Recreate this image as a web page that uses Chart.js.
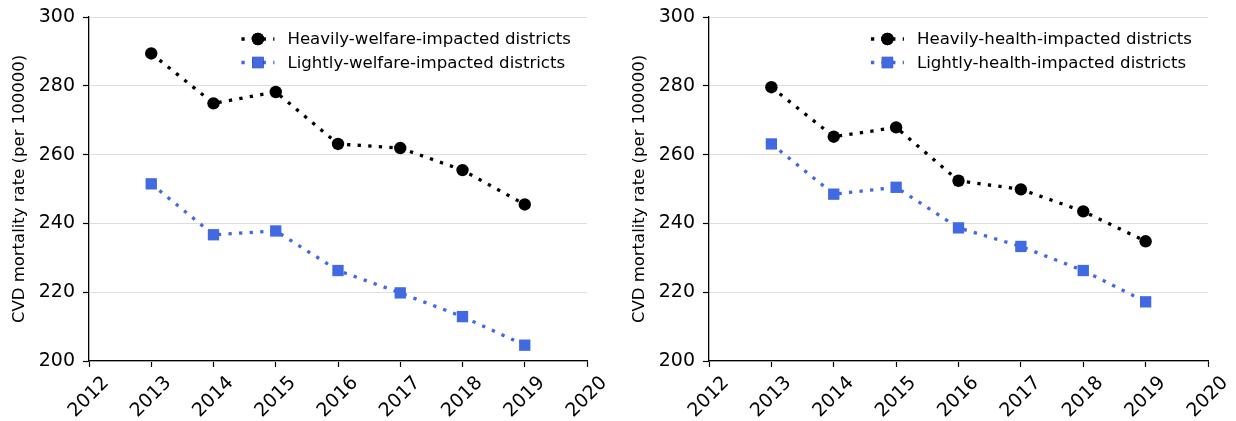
<!DOCTYPE html>
<html>
<head>
<meta charset="utf-8">
<title>CVD mortality rate by district group</title>
<script src="https://cdn.jsdelivr.net/npm/chart.js@4.4.1/dist/chart.umd.min.js"></script>
<style>
    html, body { margin: 0; padding: 0; background: #fff; }
    #wrap { display: flex; width: 1236px; height: 421px; }
    canvas { display: block; }
</style>
</head>
<body>
<div id="wrap">
    <canvas id="welfare" width="620" height="421"></canvas>
    <canvas id="health" width="616" height="421"></canvas>
</div>
<script>
// years on the x axis
const years = [2013, 2014, 2015, 2016, 2017, 2018, 2019];
const xTicks = [2012, 2013, 2014, 2015, 2016, 2017, 2018, 2019, 2020];
const yTicks = [200, 220, 240, 260, 280, 300];

// left panel: welfare impact
const heavyWelfare = [289.4, 274.9, 278.2, 263.1, 261.9, 255.5, 245.5];
const lightWelfare = [251.5, 236.7, 237.8, 226.3, 219.8, 212.9, 204.6];

// right panel: health impact
const heavyHealth = [279.6, 265.2, 267.9, 252.4, 249.9, 243.5, 234.8];
const lightHealth = [263.1, 248.5, 250.5, 238.7, 233.3, 226.3, 217.2];

const yTitle = 'CVD mortality rate (per 100000)';
const FONT = 'DejaVu Sans';
const BLUE = '#4169e1';

Chart.defaults.font.family = FONT;
Chart.defaults.color = '#000';

function points(vals) {
    return years.map((yr, i) => ({ x: yr, y: vals[i] }));
}

function series(label, vals, color, style) {
    return {
        label: label,
        data: points(vals),
        borderColor: color,
        backgroundColor: color,
        borderWidth: 3.3,
        borderDash: [3.3, 7.3],
        borderCapStyle: 'butt',
        pointStyle: style,
        pointRadius: style === 'rect' ? 8 : 6.2,
        pointHoverRadius: style === 'rect' ? 8 : 6.2,
        pointBorderWidth: 0,
        pointBackgroundColor: color,
        tension: 0,
        fill: false,
    };
}

// matplotlib-like legend drawn inside the plot, upper right
const insideLegend = {
    id: 'insideLegend',
    afterDatasetsDraw(chart) {
        const ctx = chart.ctx;
        const area = chart.chartArea;
        const sets = chart.data.datasets;
        ctx.save();
        ctx.font = '16.6px ' + FONT;
        const textW = Math.max(...sets.map(d => ctx.measureText(d.label).width));
        const handle = 33;
        const gap = 13;
        const x0 = area.right - 16 - textW - gap - handle;
        sets.forEach((d, i) => {
            const y = area.top + 22 + i * 23.5;
            ctx.strokeStyle = d.borderColor;
            ctx.lineWidth = d.borderWidth;
            ctx.setLineDash(d.borderDash);
            ctx.beginPath();
            ctx.moveTo(x0, y);
            ctx.lineTo(x0 + handle, y);
            ctx.stroke();
            ctx.setLineDash([]);
            Chart.helpers.drawPoint(ctx, {
                pointStyle: d.pointStyle,
                radius: d.pointRadius,
                borderWidth: 0,
            }, x0 + handle / 2, y);
            ctx.fillStyle = d.borderColor;
            ctx.fill();
            ctx.fillStyle = '#000';
            ctx.textAlign = 'left';
            ctx.textBaseline = 'middle';
            ctx.fillText(d.label, x0 + handle + gap, y + 1);
        });
        ctx.restore();
    }
};

function makeChart(id, heavy, light, kind, padRight) {
    new Chart(document.getElementById(id), {
        type: 'line',
        data: {
            datasets: [
                series('Heavily-' + kind + '-impacted districts', heavy, '#000', 'circle'),
                series('Lightly-' + kind + '-impacted districts', light, BLUE, 'rect'),
            ],
        },
        options: {
            responsive: false,
            animation: false,
            devicePixelRatio: 1,
            layout: { padding: { left: 0, right: padRight, top: 17, bottom: 0 } },
            plugins: { legend: { display: false }, tooltip: { enabled: false } },
            scales: {
                x: {
                    type: 'linear',
                    min: xTicks[0],
                    max: xTicks[xTicks.length - 1],
                    afterBuildTicks: (scale) => { scale.ticks = xTicks.map(v => ({ value: v })); },
                    ticks: {
                        callback: (v) => String(v),
                        maxRotation: 45,
                        minRotation: 45,
                        labelOffset: 17,
                        padding: 5,
                        font: { size: 19 },
                        color: '#000',
                    },
                    grid: {
                        drawOnChartArea: false,
                        tickLength: 6,
                        tickColor: '#000',
                        tickWidth: 1.2,
                    },
                    border: { color: '#000', width: 1.3 },
                    afterFit: (scale) => {
                        scale.height = 60;
                        scale.paddingLeft = 0;
                        scale.paddingRight = 0;
                    },
                },
                y: {
                    min: yTicks[0],
                    max: yTicks[yTicks.length - 1],
                    afterBuildTicks: (scale) => { scale.ticks = yTicks.map(v => ({ value: v })); },
                    ticks: {
                        padding: 8,
                        font: { size: 19 },
                        color: '#000',
                    },
                    grid: {
                        color: '#dddddd',
                        lineWidth: 1,
                        tickLength: 6,
                        tickColor: '#000',
                        tickWidth: 1.2,
                    },
                    border: { color: '#000', width: 1.3 },
                    title: {
                        display: true,
                        text: yTitle,
                        font: { size: 16.5 },
                        color: '#000',
                        padding: { top: 10, bottom: 0 },
                    },
                    afterFit: (scale) => {
                        scale.width = 89;
                        scale.paddingTop = 0;
                        scale.paddingBottom = 0;
                    },
                },
            },
        },
        plugins: [insideLegend],
    });
}

makeChart('welfare', heavyWelfare, lightWelfare, 'welfare', 33);
makeChart('health', heavyHealth, lightHealth, 'health', 28);
</script>
</body>
</html>
